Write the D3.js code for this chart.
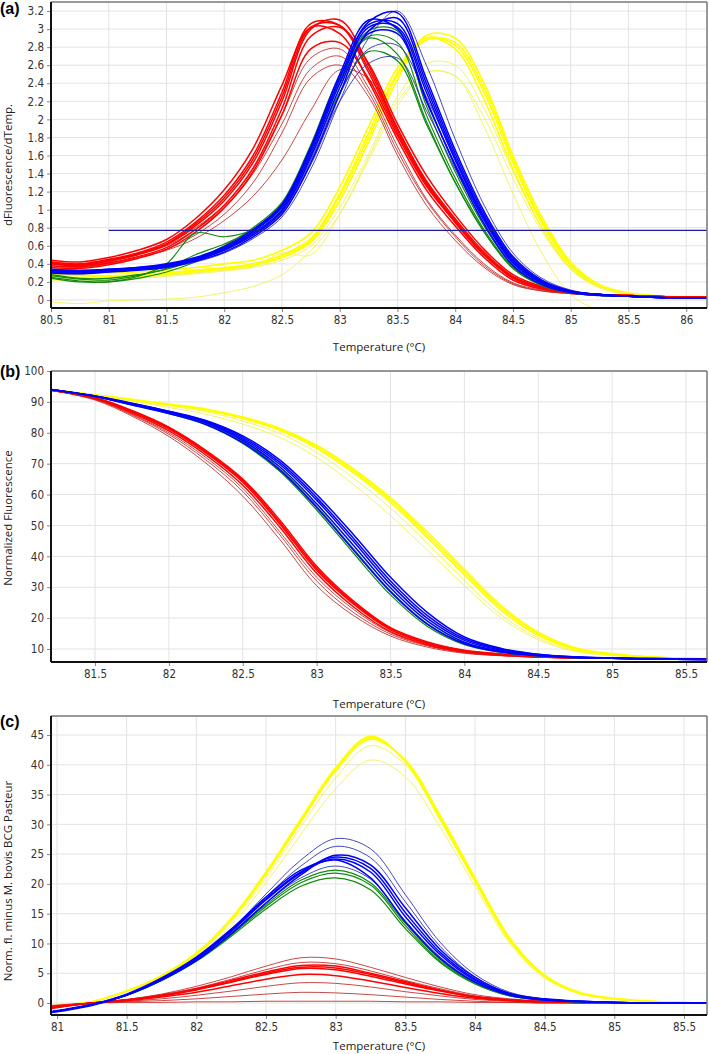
<!DOCTYPE html>
<html><head><meta charset="utf-8">
<script src="https://cdn.jsdelivr.net/npm/d3@7"></script>
<style>
body{margin:0;background:#fff}
text{fill:#333}
.title{font-family:"Open Sans","Liberation Sans",sans-serif;font-size:11.5px;fill:#222}
.plabel{font-family:"Liberation Sans",Arial,sans-serif;font-weight:bold;font-size:16px;fill:#000}
.tk{font-family:"DejaVu Sans Condensed","DejaVu Sans",sans-serif;font-stretch:condensed;font-size:11.5px;fill:#333}
</style></head>
<body><svg id="chart" width="709" height="1054"></svg>
<script>
// ---------------- Panel (a) : derivative melt curves ----------------
const tempA = [80.5,80.75,81,81.25,81.5,81.75,82,82.25,82.5,82.75,83,83.25,83.5,83.75,84,84.25,84.5,84.75,85,85.25,85.5,86,86.2];
const ticksAx = [80.5,81,81.5,82,82.5,83,83.5,84,84.5,85,85.5,86];
const ticksAy = [0,0.2,0.4,0.6,0.8,1,1.2,1.4,1.6,1.8,2,2.2,2.4,2.6,2.8,3,3.2];
const thresholdA = 0.77;
const thresholdStartA = 81;
const yellowA = [
 [0.30,0.28,0.27,0.28,0.30,0.33,0.36,0.40,0.50,0.68,1.18,1.85,2.52,2.90,2.82,2.30,1.52,0.85,0.38,0.15,0.07,0.03,0.03],
 [0.26,0.25,0.25,0.26,0.28,0.31,0.34,0.38,0.47,0.64,1.10,1.75,2.44,2.93,2.90,2.40,1.60,0.92,0.42,0.17,0.08,0.03,0.03],
 [0.33,0.31,0.30,0.31,0.33,0.36,0.40,0.44,0.55,0.74,1.25,1.92,2.57,2.90,2.78,2.22,1.45,0.80,0.35,0.14,0.06,0.03,0.03],
 [0.28,0.27,0.26,0.27,0.29,0.32,0.35,0.39,0.49,0.66,1.15,1.80,2.49,2.88,2.85,2.35,1.56,0.88,0.40,0.16,0.07,0.03,0.03]
];
const yellowThinA = [
 [0.22,0.21,0.22,0.24,0.26,0.29,0.32,0.36,0.44,0.60,1.02,1.62,2.25,2.62,2.60,2.12,1.42,0.80,0.37,0.15,0.07,0.03,0.03],
 [0.24,0.23,0.23,0.25,0.27,0.30,0.33,0.37,0.52,0.50,0.95,1.58,2.20,2.52,2.48,2.02,1.35,0.76,0.34,0.14,0.06,0.03,0.03],
 [-0.02,-0.04,-0.01,0.0,0.01,0.03,0.08,0.15,0.28,0.55,0.95,1.55,2.15,2.52,2.48,1.92,1.18,0.52,0.06,-0.12,-0.2,-0.2,-0.2]
];
const redA = [
 [0.42,0.40,0.45,0.52,0.64,0.86,1.16,1.60,2.30,3.06,3.04,2.52,1.85,1.28,0.86,0.50,0.24,0.13,0.08,0.06,0.05,0.03,0.03],
 [0.40,0.38,0.43,0.50,0.61,0.82,1.10,1.52,2.20,3.00,3.10,2.60,1.90,1.32,0.90,0.53,0.26,0.14,0.09,0.06,0.05,0.03,0.03],
 [0.38,0.37,0.41,0.48,0.58,0.78,1.05,1.46,2.12,2.92,3.02,2.62,1.95,1.38,0.94,0.56,0.28,0.15,0.09,0.06,0.05,0.03,0.03],
 [0.44,0.42,0.47,0.55,0.67,0.90,1.22,1.68,2.38,3.02,2.95,2.42,1.78,1.22,0.82,0.47,0.22,0.12,0.08,0.06,0.05,0.03,0.03],
 [0.36,0.35,0.39,0.46,0.56,0.75,1.02,1.42,2.05,2.78,2.85,2.45,1.82,1.26,0.86,0.50,0.25,0.14,0.08,0.06,0.05,0.03,0.03],
 [0.41,0.39,0.44,0.51,0.62,0.84,1.13,1.56,2.25,3.02,3.04,2.56,1.88,1.30,0.88,0.51,0.25,0.13,0.08,0.06,0.05,0.03,0.03]
];
const redThinA = [
 [0.40,0.38,0.42,0.50,0.60,0.78,1.02,1.40,1.95,2.56,2.70,2.30,1.65,1.10,0.70,0.38,0.18,0.10,0.07,0.05,0.04,0.03,0.03],
 [0.38,0.36,0.40,0.47,0.56,0.72,0.95,1.30,1.85,2.46,2.60,2.25,1.60,1.05,0.66,0.36,0.17,0.10,0.07,0.05,0.04,0.03,0.03],
 [0.42,0.40,0.44,0.52,0.62,0.80,1.05,1.45,2.05,2.68,2.78,2.35,1.70,1.12,0.72,0.40,0.19,0.11,0.07,0.05,0.04,0.03,0.03],
 [0.40,0.38,0.41,0.47,0.55,0.68,0.88,1.15,1.55,2.10,2.55,2.45,1.90,1.30,0.85,0.48,0.22,0.12,0.08,0.05,0.04,0.03,0.03]
];
const greenA = [
 [0.25,0.21,0.20,0.26,0.40,0.74,0.70,0.78,1.02,1.65,2.40,2.92,2.85,2.05,1.35,0.78,0.36,0.17,0.08,0.05,0.04,0.02,0.02],
 [0.28,0.24,0.24,0.28,0.34,0.45,0.60,0.80,1.08,1.72,2.48,2.90,2.72,1.98,1.30,0.75,0.35,0.16,0.08,0.05,0.04,0.02,0.02],
 [0.24,0.20,0.20,0.24,0.31,0.42,0.57,0.76,1.04,1.66,2.42,2.98,2.98,2.15,1.42,0.82,0.38,0.18,0.08,0.05,0.04,0.02,0.02],
 [0.27,0.23,0.22,0.27,0.35,0.50,0.62,0.78,1.05,1.60,2.30,2.75,2.65,1.95,1.30,0.76,0.35,0.16,0.08,0.05,0.04,0.02,0.02]
];
const blueA = [
 [0.32,0.31,0.33,0.35,0.38,0.45,0.56,0.74,1.00,1.62,2.40,3.02,3.02,2.30,1.55,0.90,0.42,0.19,0.09,0.06,0.04,0.02,0.02],
 [0.34,0.33,0.34,0.36,0.40,0.47,0.59,0.78,1.06,1.70,2.50,3.10,3.00,2.22,1.48,0.84,0.38,0.17,0.08,0.05,0.04,0.02,0.02],
 [0.30,0.29,0.31,0.33,0.36,0.43,0.53,0.70,0.95,1.52,2.28,2.98,3.12,2.40,1.62,0.95,0.46,0.21,0.10,0.06,0.04,0.02,0.02],
 [0.33,0.32,0.33,0.35,0.39,0.46,0.57,0.76,1.03,1.66,2.45,3.08,3.18,2.45,1.66,0.98,0.48,0.22,0.10,0.06,0.04,0.02,0.02],
 [0.31,0.30,0.32,0.34,0.37,0.44,0.55,0.72,0.98,1.58,2.35,2.95,2.95,2.20,1.50,0.88,0.41,0.19,0.09,0.06,0.04,0.02,0.02],
 [0.33,0.32,0.34,0.36,0.39,0.46,0.58,0.76,1.04,1.68,2.46,3.05,3.06,2.35,1.58,0.92,0.44,0.20,0.09,0.06,0.04,0.02,0.02]
];
const blueThinA = [
 [0.32,0.31,0.33,0.35,0.38,0.45,0.55,0.72,0.96,1.50,2.20,2.62,2.68,2.10,1.45,0.85,0.40,0.19,0.09,0.06,0.04,0.02,0.02],
 [0.33,0.32,0.33,0.35,0.38,0.45,0.56,0.73,0.98,1.55,2.28,2.78,2.82,2.25,1.55,0.92,0.44,0.20,0.09,0.06,0.04,0.02,0.02],
 [0.30,0.29,0.31,0.33,0.36,0.42,0.52,0.68,0.92,1.45,2.20,2.90,3.20,2.60,1.78,1.05,0.52,0.24,0.11,0.06,0.04,0.02,0.02]
];

// ---------------- Panel (b) : normalized melt curves ----------------
const tempB = [81.2,81.5,81.75,82,82.25,82.5,82.75,83,83.25,83.5,83.75,84,84.25,84.5,84.75,85,85.25,85.65];
const ticksBx = [81.5,82,82.5,83,83.5,84,84.5,85,85.5];
const ticksBy = [10,20,30,40,50,60,70,80,90,100];
const yellowB = [
 [94,92.2,90.6,89.0,87.3,84.6,80.8,75.0,67.0,57.5,46.0,34.0,22.5,14.4,9.8,8.2,7.4,6.8],
 [94,92.3,90.8,89.3,87.7,85.1,81.5,76.0,68.3,59.0,47.8,35.8,24.0,15.4,10.4,8.5,7.5,6.8],
 [94,92.2,90.7,89.1,87.5,84.9,81.2,75.5,67.7,58.3,47.0,35.0,23.3,14.9,10.1,8.3,7.4,6.8]
];
const yellowThinB = [
 [94,92.1,90.4,88.7,86.8,83.8,79.8,73.6,65.3,55.6,44.2,32.2,21.0,13.6,9.4,8.0,7.3,6.8],
 [94,92.0,90.1,88.2,86.0,82.8,78.5,72.0,63.2,53.2,42.0,30.5,20.0,13.0,9.2,7.9,7.3,6.8]
];
const redB = [
 [93.8,91.2,86.8,81.2,73.5,64.0,50.5,35.5,24.5,16.2,11.8,9.3,8.2,7.5,7.2,7.0,6.9,6.7],
 [93.8,91.4,87.2,81.8,74.3,65.0,51.8,36.8,25.5,16.9,12.3,9.6,8.4,7.6,7.2,7.0,6.9,6.7],
 [93.8,91.0,86.4,80.6,72.8,63.0,49.5,34.5,23.6,15.6,11.4,9.1,8.0,7.4,7.1,7.0,6.9,6.7],
 [93.8,91.3,87.0,81.5,73.9,64.5,51.1,36.1,25.0,16.6,12.0,9.4,8.3,7.5,7.2,7.0,6.9,6.7]
];
const redThinB = [
 [93.8,90.8,85.8,79.5,71.2,61.0,47.0,32.0,21.8,14.8,11.0,8.8,7.9,7.3,7.1,7.0,6.9,6.7],
 [93.8,90.6,85.4,78.8,70.2,59.5,45.5,30.5,20.8,14.2,10.6,8.6,7.8,7.3,7.1,7.0,6.9,6.7],
 [93.8,91.0,86.0,80.0,72.0,62.0,48.0,33.2,22.8,15.3,11.2,8.9,7.9,7.4,7.1,7.0,6.9,6.7]
];
const greenB = [
 [94,91.7,89.0,86.2,82.6,76.5,67.5,55.0,41.0,27.5,17.3,11.4,8.9,7.7,7.2,7.0,6.8,6.6],
 [94,91.8,89.2,86.4,83.0,77.2,68.4,56.2,42.4,28.8,18.2,11.9,9.1,7.8,7.2,7.0,6.8,6.6]
];
const blueB = [
 [94,91.8,89.2,86.5,83.2,77.5,69.0,57.0,43.5,29.8,19.0,12.2,9.3,7.9,7.3,7.0,6.8,6.6],
 [94,91.9,89.5,86.9,83.8,78.5,70.5,59.0,45.8,32.0,20.8,13.3,9.9,8.2,7.4,7.0,6.8,6.6],
 [94,91.7,89.0,86.2,82.7,76.8,68.0,55.8,42.0,28.5,18.0,11.7,9.0,7.8,7.2,7.0,6.8,6.6],
 [94,91.8,89.3,86.7,83.5,78.0,69.8,58.2,44.8,31.0,19.9,12.8,9.6,8.0,7.3,7.0,6.8,6.6],
 [94,91.9,89.6,87.0,84.0,79.0,71.2,60.0,47.0,33.2,21.8,13.9,10.2,8.3,7.5,7.1,6.8,6.6]
];

// ---------------- Panel (c) : difference curves ----------------
const tempC = [80.96,81.25,81.5,81.75,82,82.25,82.5,82.75,83,83.25,83.5,83.75,84,84.25,84.5,84.75,85,85.25,85.5,85.68];
const ticksCx = [81,81.5,82,82.5,83,83.5,84,84.5,85,85.5];
const ticksCy = [0,5,10,15,20,25,30,35,40,45];
const yellowC = [
 [-0.5,0.2,2.0,4.6,8.4,14.2,22.0,30.9,39.5,44.8,40.5,30.8,20.4,10.4,4.4,1.6,0.7,0.3,0.1,0],
 [-0.5,0.2,2.0,4.5,8.2,13.9,21.6,30.4,39.0,44.3,40.8,31.5,21.0,10.9,4.7,1.8,0.8,0.3,0.1,0],
 [-0.5,0.2,2.0,4.6,8.3,14.0,21.8,30.7,39.3,44.6,40.6,31.1,20.7,10.6,4.5,1.7,0.7,0.3,0.1,0]
];
const yellowThinC = [
 [-0.5,0.2,1.9,4.4,8.0,13.5,21.0,29.6,37.8,43.2,40.0,30.8,20.5,10.6,4.5,1.7,0.7,0.3,0.1,0],
 [-0.5,0.2,1.9,4.3,7.8,13.0,20.2,28.3,36.0,40.8,38.0,29.5,19.6,10.0,4.2,1.6,0.7,0.3,0.1,0]
];
const redC = [
 [-0.8,0,0.5,1.2,2.2,3.5,4.8,5.8,5.6,4.5,3.2,2.0,1.0,0.5,0.2,0.1,0,0,0,0],
 [-0.6,0,0.5,1.3,2.4,3.8,5.2,6.3,6.2,5.0,3.6,2.2,1.1,0.5,0.2,0.1,0,0,0,0],
 [-0.9,0,0.5,1.2,2.3,3.6,5.0,6.0,5.9,4.8,3.4,2.1,1.0,0.5,0.2,0.1,0,0,0,0],
 [-0.7,0,0.4,1.0,1.8,2.9,4.0,4.8,4.6,3.7,2.6,1.6,0.8,0.4,0.2,0.1,0,0,0,0]
];
const redThinC = [
 [-0.8,0,0.6,1.5,2.8,4.4,6.2,7.6,7.4,6.0,4.3,2.7,1.4,0.7,0.3,0.1,0,0,0,0],
 [-0.8,0,0.6,1.4,2.5,4.0,5.6,6.8,6.6,5.4,3.8,2.4,1.2,0.6,0.3,0.1,0,0,0,0],
 [-0.6,0,0.3,0.7,1.3,2.0,2.8,3.4,3.3,2.7,1.9,1.2,0.6,0.3,0.1,0,0,0,0,0],
 [-0.5,0,0.2,0.4,0.7,1.1,1.5,1.8,1.7,1.4,1.0,0.6,0.3,0.1,0,0,0,0,0,0],
 [-0.4,0,0.1,0.1,0.2,0.2,0.3,0.3,0.3,0.3,0.2,0.2,0.1,0.1,0,0,0,0,0,0]
];
const greenC = [
 [-1.5,-0.3,1.3,3.8,7.0,11.2,15.8,19.6,21.0,19.0,12.5,6.8,3.2,1.2,0.5,0.2,0.1,0,0,0],
 [-1.5,-0.3,1.3,3.9,7.2,11.6,16.5,20.6,22.3,20.2,13.4,7.3,3.4,1.3,0.5,0.2,0.1,0,0,0],
 [-1.5,-0.3,1.3,3.8,7.1,11.4,16.2,20.2,21.8,19.8,13.0,7.0,3.3,1.2,0.5,0.2,0.1,0,0,0]
];
const blueC = [
 [-1.5,-0.3,1.4,4.0,7.4,12.0,17.3,21.8,24.2,22.0,14.5,8.1,3.8,1.4,0.6,0.3,0.1,0,0,0],
 [-1.6,-0.4,1.3,3.8,7.1,11.6,16.8,21.5,24.8,23.2,16.0,9.0,4.3,1.6,0.7,0.3,0.1,0,0,0],
 [-1.4,-0.2,1.5,4.2,7.7,12.4,17.8,22.3,24.0,21.0,13.6,7.5,3.5,1.3,0.5,0.2,0.1,0,0,0],
 [-1.5,-0.3,1.4,4.0,7.5,12.2,17.5,22.0,24.5,22.6,15.2,8.5,4.0,1.5,0.6,0.3,0.1,0,0,0]
];
const blueThinC = [
 [-1.5,-0.3,1.4,4.0,7.5,12.3,18.3,24.0,27.6,25.9,18.2,10.2,4.8,1.8,0.7,0.3,0.1,0,0,0],
 [-1.5,-0.3,1.4,4.0,7.4,12.1,17.8,23.0,26.3,24.4,17.0,9.5,4.4,1.6,0.6,0.3,0.1,0,0,0],
 [-1.5,-0.3,1.3,3.9,7.2,11.7,16.8,21.0,23.0,20.8,13.8,7.7,3.6,1.3,0.5,0.2,0.1,0,0,0]
];

// ---------------- styles ----------------
const COL = {
  yellow:{stroke:"#ffff00",w:1.6,o:1}, yellowThin:{stroke:"#f2f25a",w:1,o:0.9},
  red:{stroke:"#ff0000",w:1.5,o:1}, redThin:{stroke:"#c02828",w:1,o:0.85},
  green:{stroke:"#118a11",w:1.2,o:1},
  blue:{stroke:"#0000ff",w:1.5,o:1}, blueThin:{stroke:"#2828b0",w:1,o:0.85}
};

const panels = [
 {label:"(a)", lx:0, ly:14, x0:51, x1:707, y0:2, y1:308, xDom:[80.5,86.18], yDom:[-0.089,3.30],
  temps:tempA, xt:ticksAx, yt:ticksAy, yTitle:"dFluorescence/dTemp.", yTitleY:165, xTitleY:351,
  groups:[["yellow",yellowA],["yellowThin",yellowThinA],["redThin",redThinA],["red",redA],["green",greenA],["blueThin",blueThinA],["blue",blueA]],
  threshold:true},
 {label:"(b)", lx:0, ly:377, x0:51, x1:707, y0:371, y1:662, xDom:[81.202,85.642], yDom:[5.79,100],
  temps:tempB, xt:ticksBx, yt:ticksBy, yTitle:"Normalized Fluorescence", yTitleY:518, xTitleY:708,
  groups:[["yellowThin",yellowThinB],["yellow",yellowB],["redThin",redThinB],["red",redB],["green",greenB],["blue",blueB]]},
 {label:"(c)", lx:0, ly:727, x0:51, x1:707, y0:716, y1:1015, xDom:[80.957,85.665], yDom:[-2.01,48.19],
  temps:tempC, xt:ticksCx, yt:ticksCy, yTitle:"Norm. fl. minus M. bovis BCG Pasteur", yTitleY:881, xTitleY:1050,
  groups:[["yellowThin",yellowThinC],["yellow",yellowC],["redThin",redThinC],["red",redC],["green",greenC],["blueThin",blueThinC],["blue",blueC]]}
];

const svg = d3.select("#chart");
panels.forEach((p,i)=>{
  const x = d3.scaleLinear().domain(p.xDom).range([p.x0,p.x1]);
  const y = d3.scaleLinear().domain(p.yDom).range([p.y1,p.y0]);
  const g = svg.append("g");
  g.selectAll(".vg").data(p.xt).join("line")
    .attr("x1",d=>x(d)).attr("x2",d=>x(d)).attr("y1",p.y0).attr("y2",p.y1)
    .attr("stroke","#e3e3e3").attr("stroke-width",1);
  g.selectAll(".hg").data(p.yt).join("line")
    .attr("y1",d=>y(d)).attr("y2",d=>y(d)).attr("x1",p.x0).attr("x2",p.x1)
    .attr("stroke","#e3e3e3").attr("stroke-width",1);
  const cid = "clip"+i;
  svg.append("clipPath").attr("id",cid).append("rect")
    .attr("x",p.x0).attr("y",p.y0).attr("width",p.x1-p.x0).attr("height",p.y1-p.y0);
  const lines = g.append("g").attr("clip-path",`url(#${cid})`);
  const line = d3.line().x((d,j)=>x(p.temps[j])).y(d=>y(d)).curve(d3.curveCatmullRom.alpha(0.5));
  p.groups.forEach(([key,curves])=>{
    const s = COL[key];
    lines.selectAll(null).data(curves).join("path")
      .attr("d",line).attr("fill","none").attr("stroke",s.stroke)
      .attr("stroke-width",s.w).attr("stroke-opacity",s.o);
  });
  if(p.threshold){
    lines.append("line").attr("x1",x(thresholdStartA)).attr("x2",p.x1)
      .attr("y1",y(thresholdA)).attr("y2",y(thresholdA))
      .attr("stroke","#1c1c9c").attr("stroke-width",1.2);
  }
  g.append("line").attr("x1",p.x0).attr("x2",p.x1).attr("y1",p.y0).attr("y2",p.y0).attr("stroke","#777").attr("stroke-width",1.5);
  g.append("line").attr("x1",p.x1).attr("x2",p.x1).attr("y1",p.y0).attr("y2",p.y1).attr("stroke","#777").attr("stroke-width",1.5);
  const ax = d3.axisBottom(x).tickValues(p.xt).tickSize(4).tickPadding(4).tickFormat(d=>String(d));
  const ay = d3.axisLeft(y).tickValues(p.yt).tickSize(4).tickPadding(3).tickFormat(d=>String(d));
  const gx = g.append("g").attr("transform",`translate(0,${p.y1})`).call(ax);
  const gy = g.append("g").attr("transform",`translate(${p.x0},0)`).call(ay);
  [gx,gy].forEach(a=>{
    a.attr("font-family",null).attr("font-size",null);
    a.select(".domain").remove();
    a.selectAll(".tick line").attr("stroke","#888");
    a.selectAll(".tick text").attr("class","tk").attr("fill","#333");
  });
  g.append("line").attr("x1",p.x0).attr("x2",p.x1).attr("y1",p.y1).attr("y2",p.y1).attr("stroke","#111").attr("stroke-width",2);
  g.append("line").attr("x1",p.x0).attr("x2",p.x0).attr("y1",p.y0).attr("y2",p.y1).attr("stroke","#111").attr("stroke-width",2);
  g.append("text").attr("class","title").attr("x",(p.x0+p.x1)/2).attr("y",p.xTitleY)
    .attr("text-anchor","middle").text("Temperature (°C)");
  g.append("text").attr("class","title").attr("transform",`translate(12,${p.yTitleY}) rotate(-90)`)
    .attr("text-anchor","middle").text(p.yTitle);
  g.append("text").attr("class","plabel").attr("x",p.lx).attr("y",p.ly).text(p.label);
});
</script></body></html>
